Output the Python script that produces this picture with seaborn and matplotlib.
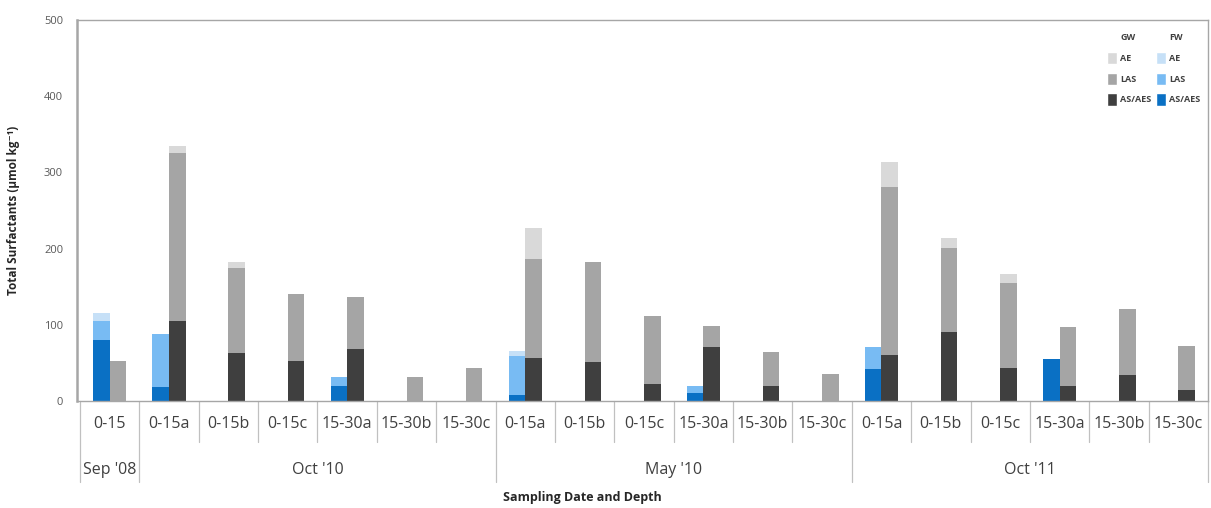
import numpy as np
import pandas as pd
import matplotlib
matplotlib.use("Agg")
import matplotlib.pyplot as plt
import matplotlib.transforms as mtransforms
from matplotlib.patches import Patch
import seaborn as sns

# Sampling dates and the depth samples taken at each
dates = ["Sep '08", "Oct '10", "May '10", "Oct '11"]
depths_sep08 = ["0-15"]
depths_std = ["0-15a", "0-15b", "0-15c", "15-30a", "15-30b", "15-30c"]

# Surfactant concentrations (µmol kg-1), one value per sample
fw_as_aes = [80, 18, 0, 0, 20, 0, 0, 8, 0, 0, 11, 0, 0, 42, 0, 0, 55, 0, 0]
fw_las = [25, 70, 0, 0, 12, 0, 0, 51, 0, 0, 9, 0, 0, 29, 0, 0, 0, 0, 0]
fw_ae = [11, 0, 0, 0, 0, 0, 0, 7, 0, 0, 0, 0, 0, 0, 0, 0, 0, 0, 0]
gw_as_aes = [0, 105, 63, 52, 68, 0, 0, 57, 51, 22, 71, 20, 0, 60, 91, 43, 20, 34, 15]
gw_las = [52, 221, 112, 89, 69, 32, 43, 130, 131, 90, 27, 44, 36, 221, 110, 112, 77, 87, 57]
gw_ae = [0, 8, 7, 0, 0, 0, 0, 40, 0, 0, 0, 0, 0, 33, 13, 12, 0, 0, 0]

# Colours per water type and surfactant class
colors = {
    "GW": {"AE": "#d9d9d9", "LAS": "#a5a5a5", "AS/AES": "#3f3f3f"},
    "FW": {"AE": "#c6e0f7", "LAS": "#78bbf3", "AS/AES": "#0a70c4"},
}

sns.set_style("white")
plt.rcParams["font.family"] = ["Open Sans", "DejaVu Sans"]

group_depths = [depths_sep08, depths_std, depths_std, depths_std]
labels, group_of = [], []
for g, (d, ds) in enumerate(zip(dates, group_depths)):
    for dep in ds:
        labels.append(dep)
        group_of.append(g)
keys = [f"{dates[g]}|{lab}" for g, lab in zip(group_of, labels)]

rows = []
series = {
    "FW": (fw_as_aes, fw_las, fw_ae),
    "GW": (gw_as_aes, gw_las, gw_ae),
}
for water, (a, l, e) in series.items():
    for k, va, vl, ve in zip(keys, a, l, e):
        rows.append({"key": k, "water": water,
                     "AS/AES": va, "LAS": va + vl, "AE": va + vl + ve})
df = pd.DataFrame(rows)

fig = plt.figure(figsize=(12.11, 5.08), dpi=100)
ax = fig.add_axes([77 / 1211, 1 - 401 / 508, (1208 - 77) / 1211, 381 / 508])

# Stacked bars: draw cumulative totals from the top layer down
for layer in ["AE", "LAS", "AS/AES"]:
    sns.barplot(data=df, x="key", y=layer, hue="water", order=keys,
                hue_order=["FW", "GW"],
                palette={w: colors[w][layer] for w in ["FW", "GW"]},
                width=0.56, dodge=True, saturation=1, linewidth=0,
                errorbar=None, legend=False, ax=ax)

ax.set_xlim(-0.55, len(keys) - 0.5)
ax.set_ylim(0, 500)
ax.set_yticks(range(0, 501, 100))
ax.tick_params(axis="y", direction="out", length=4, width=0.8,
               color="#a0a0a0", labelsize=8, labelcolor="#595959", pad=6)
ax.set_xticks(range(len(keys)))
ax.set_xticklabels(labels, fontsize=11.5, color="#404040")
ax.tick_params(axis="x", length=0, pad=11)
for s in ax.spines.values():
    s.set_color("#a6a6a6")
    s.set_linewidth(1.0)
ax.spines["left"].set_linewidth(1.8)

# Category and date-group separators below the axis
trans = mtransforms.blended_transform_factory(ax.transData, ax.transAxes)
group_edges = [-0.5]
pos = -0.5
for ds in group_depths:
    pos += len(ds)
    group_edges.append(pos)
for b in np.arange(-0.5, len(keys), 1.0):
    bottom = -0.213 if b in group_edges else -0.108
    ax.plot([b, b], [0, bottom], transform=trans, color="#c0c0c0",
            lw=0.9, clip_on=False)

# Date group labels
start = 0
for d, ds in zip(dates, group_depths):
    center = start + (len(ds) - 1) / 2
    ax.text(center, -0.181, d, transform=trans, ha="center", va="center",
            fontsize=11.5, color="#404040")
    start += len(ds)

ax.set_xlabel("Sampling Date and Depth", fontsize=9, fontweight="bold",
              color="#262626")
ax.xaxis.set_label_coords(0.4465, -0.236)
ax.set_ylabel("Total Surfactants (µmol kg⁻¹)", fontsize=8.5,
              fontweight="bold", color="#262626")
ax.yaxis.set_label_coords(-0.05, 0.5)

# Two-column legend: GW and FW
blank = Patch(facecolor="none", edgecolor="none")
handles = [blank] + [Patch(facecolor=colors["GW"][c]) for c in ["AE", "LAS", "AS/AES"]]
handles += [blank] + [Patch(facecolor=colors["FW"][c]) for c in ["AE", "LAS", "AS/AES"]]
leg_labels = ["GW", "AE", "LAS", "AS/AES", "FW", "AE", "LAS", "AS/AES"]
leg = ax.legend(handles, leg_labels, ncol=2, loc="upper right",
                bbox_to_anchor=(0.998, 0.985), frameon=False,
                prop={"size": 6.5, "weight": "bold"},
                handlelength=1.1, handleheight=1.7, handletextpad=0.35,
                labelspacing=0.95, columnspacing=0.5, borderaxespad=0.2)
for t in leg.get_texts():
    t.set_color("#404040")

fig.savefig("out.png", dpi=100, facecolor="white")
